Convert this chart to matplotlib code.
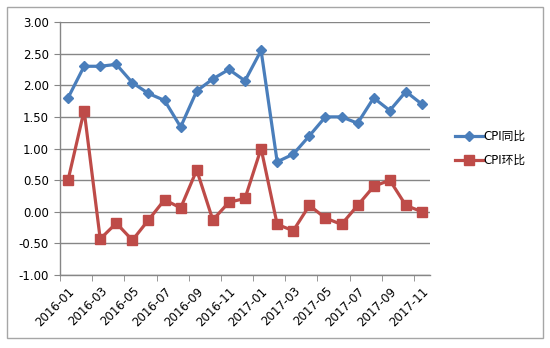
import matplotlib
matplotlib.use('Agg')
import matplotlib.pyplot as plt
from matplotlib.patches import Rectangle
import numpy as np

plt.rcParams['font.family'] = ['DejaVu Sans', 'Noto Sans CJK SC']

months = ['2016-01', '2016-02', '2016-03', '2016-04', '2016-05', '2016-06',
          '2016-07', '2016-08', '2016-09', '2016-10', '2016-11', '2016-12',
          '2017-01', '2017-02', '2017-03', '2017-04', '2017-05', '2017-06',
          '2017-07', '2017-08', '2017-09', '2017-10', '2017-11']
cpi_yoy = [1.80, 2.30, 2.30, 2.33, 2.04, 1.87, 1.76, 1.34, 1.91, 2.10, 2.25, 2.07,
           2.55, 0.79, 0.91, 1.20, 1.50, 1.50, 1.40, 1.80, 1.60, 1.90, 1.70]
cpi_mom = [0.50, 1.60, -0.43, -0.18, -0.45, -0.13, 0.19, 0.06, 0.66, -0.13, 0.15, 0.21,
           1.00, -0.20, -0.30, 0.10, -0.10, -0.20, 0.10, 0.40, 0.50, 0.10, 0.00]

W, H = 550, 348
fig = plt.figure(figsize=(W / 100, H / 100), dpi=100)
fig.patch.set_facecolor('white')

# outer chart border
fig.add_artist(Rectangle((7 / W, 1 - 338 / H), 536 / W, 331 / H,
                         transform=fig.transFigure, fill=False,
                         edgecolor='#a6a6a6', linewidth=1.0))

ax = fig.add_axes([60 / W, 1 - 275 / H, 370 / W, 253 / H])
x = np.arange(len(months))
grey = '#868686'

ax.plot(x, cpi_yoy, color='#4a7ebb', lw=2.3, marker='D', markersize=5.5,
        label='CPI同比', zorder=3)
ax.plot(x, cpi_mom, color='#be4b48', lw=2.3, marker='s', markersize=7,
        label='CPI环比', zorder=3)

ax.set_xlim(-0.5, len(months) - 0.5)
ax.set_ylim(-1.0, 3.0)
ax.set_yticks(np.arange(-1.0, 3.01, 0.5))
ax.set_yticklabels([f'{v:.2f}' for v in np.arange(-1.0, 3.01, 0.5)], fontsize=8.5)
ax.yaxis.grid(True, color=grey, lw=1.0)
ax.set_axisbelow(True)

# labels every second month, tick marks on category boundaries
ax.set_xticks(x[::2])
ax.set_xticklabels(months[::2], rotation=45, ha='right', rotation_mode='anchor',
                   fontsize=8.5)
ax.tick_params(axis='x', which='major', length=0, pad=7)
ax.set_xticks(np.arange(-0.5, len(months), 2), minor=True)
ax.tick_params(axis='x', which='minor', length=4, color=grey, direction='out')
ax.tick_params(axis='y', length=4, color=grey, direction='out', pad=4)

for side in ['top', 'right']:
    ax.spines[side].set_visible(False)
for side in ['left', 'bottom']:
    ax.spines[side].set_color(grey)
    ax.spines[side].set_linewidth(1.0)

ax.legend(loc='center left', bbox_to_anchor=(1.04, 0.5), frameon=False,
          handlelength=2.3, handletextpad=0.1, labelspacing=0.9,
          prop={'family': ['DejaVu Sans', 'Noto Sans CJK SC'], 'size': 8.5})

fig.savefig('out.png', dpi=100)
